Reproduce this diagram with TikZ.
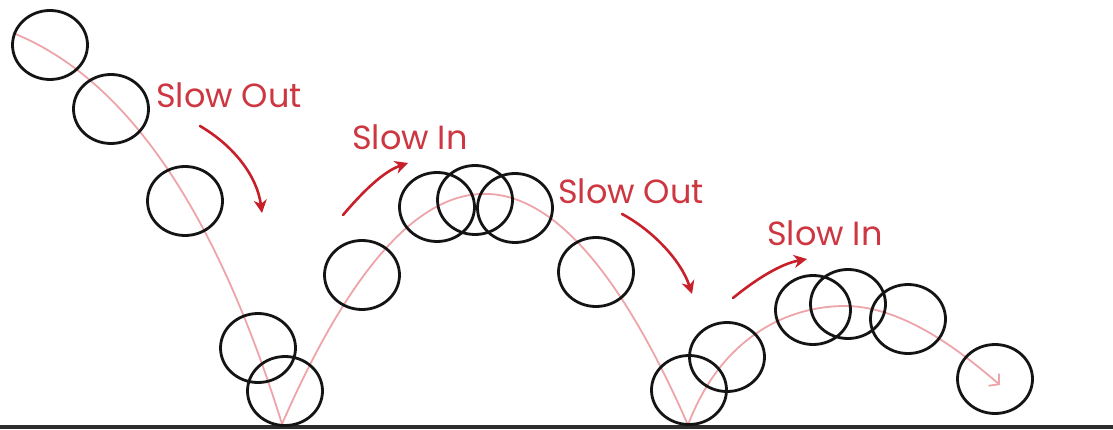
\documentclass[tikz,border=0pt]{standalone}
\usepackage{fontspec}
\setmainfont{Poppins}
\usetikzlibrary{arrows.meta}
\definecolor{ballink}{RGB}{20,20,20}
\definecolor{pathpink}{RGB}{238,165,170}
\definecolor{cuered}{RGB}{200,32,42}
\definecolor{cuetext}{RGB}{205,55,65}
\definecolor{groundgray}{RGB}{45,45,45}
\tikzset{
  ball/.style={draw=ballink, line width=2.8pt},
  trail/.style={draw=pathpink, line width=1.8pt},
  cue/.style={draw=cuered, line width=2.6pt, line cap=round,
    -{Stealth[length=13pt,width=13pt,inset=4pt]}},
  cuelabel/.style={text=cuetext, font=\fontsize{33.5}{33.5}\selectfont,
    anchor=base west, inner sep=0pt},
}
\begin{document}
\begin{tikzpicture}[x=1pt,y=-1pt]
\useasboundingbox (0,0) rectangle (1113,430);
\fill[white] (0,0) rectangle (1113,430);

% ground
\draw[groundgray, line width=4pt] (0,427) -- (1113,427);

% path of the ball: fall, first bounce, second bounce
\coordinate (drop) at (13,33);
\coordinate (hit1) at (282,424);
\coordinate (hit2) at (688,425);
\coordinate (top2) at (845,306);
\coordinate (stop) at (1000,385);
\draw[trail] (drop) .. controls (125,78) and (215,208) .. (hit1);
\draw[trail] (hit1) .. controls (417,116) and (553,118) .. (hit2);
\draw[trail, -{Straight Barb[length=7pt,width=16pt,line width=1.8pt]}]
  (hit2) .. controls (722,335) and (790,306) .. (top2)
  .. controls (905,306) and (965,355) .. (stop);

% ball positions
\foreach \cx/\cy in {50/45, 111/109, 185/201, 258/348, 285/391,
    362/275, 437/207, 475/200, 515/208, 596/272,
    689/390, 727/357, 813/310, 848/304, 908/319, 995/379}
  \draw[ball] (\cx,\cy) ellipse [x radius=37.5, y radius=34.5];

% labels
\node[cuelabel] (out1) at (156,108) {Slow Out};
\node[cuelabel] (in1) at (352,150) {Slow In};
\node[cuelabel] (out2) at (558,204) {Slow Out};
\node[cuelabel] (in2) at (767,246) {Slow In};

% cue arrows
\draw[cue] (200,126) .. controls (234,146) and (257,176) .. (262,213);
\draw[cue] (343,215) .. controls (360,195) and (382,172) .. (408,163);
\draw[cue] (622,214) .. controls (652,230) and (681,260) .. (692,294);
\draw[cue] (733,298) .. controls (755,280) and (780,264) .. (807,259);
\end{tikzpicture}
\end{document}
